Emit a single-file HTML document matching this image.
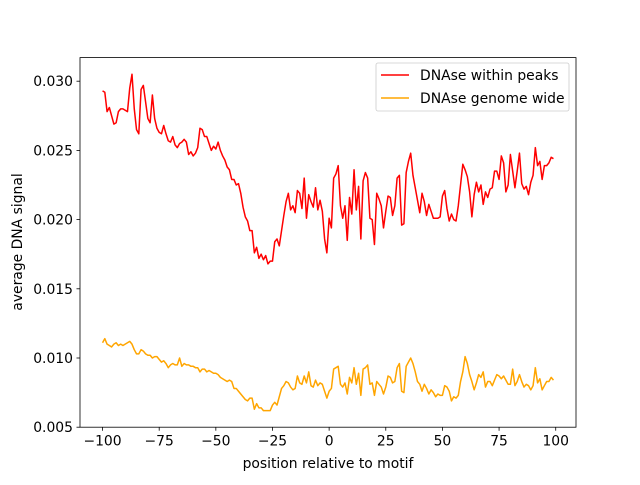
<!DOCTYPE html>
<html><head><meta charset="utf-8"><style>
body{margin:0;background:#fff;}
svg text{font-family:"DejaVu Sans","Liberation Sans",sans-serif;font-size:13.9px;fill:#000;}
</style></head><body>
<svg id="chart" width="640" height="480" xmlns="http://www.w3.org/2000/svg">
<rect width="640" height="480" fill="#fff"/>
<g id="marks"></g>
<rect x="80" y="57.6" width="496" height="369.6" fill="none" stroke="#000" stroke-width="0.8"/>
<g id="xticks"></g>
<g id="yticks"></g>
<text x="328" y="468" text-anchor="middle">position relative to motif</text>
<text transform="translate(22,242) rotate(-90)" text-anchor="middle">average DNA signal</text>
<g>
<rect x="376" y="63" width="193" height="48" rx="2" fill="#fff" fill-opacity="0.8" stroke="#ccc" stroke-width="0.8"/>
<line x1="381" y1="75" x2="409" y2="75" stroke="#ff0000" stroke-width="1.5"/>
<text x="420" y="80">DNAse within peaks</text>
<line x1="381" y1="98" x2="409" y2="98" stroke="#ffa500" stroke-width="1.5"/>
<text x="420" y="103">DNAse genome wide</text>
</g>
</svg>
<script>
const xStart = -100;
const peaks = [29.3,29.2,27.8,28.1,27.5,26.9,27.0,27.8,28.0,28.0,27.9,27.8,29.5,30.5,28.0,26.5,26.2,29.4,29.7,28.5,27.3,27.0,29.0,27.3,26.6,26.3,26.2,26.8,26.2,25.7,25.6,26.0,25.4,25.2,25.5,25.6,25.8,25.6,24.7,24.9,24.6,24.8,25.2,26.6,26.5,26.0,26.0,25.5,25.0,25.3,25.1,25.6,25.0,24.6,24.3,23.8,23.6,22.9,22.9,22.5,22.6,21.9,20.9,20.2,19.9,19.2,19.2,17.6,18.0,17.2,17.5,17.1,17.4,16.8,17.0,17.0,18.4,18.6,18.1,19.2,20.3,21.3,21.9,20.7,21.0,20.5,22.1,21.9,20.8,23.0,20.1,21.8,21.3,20.9,22.3,20.7,21.4,20.6,18.6,17.6,20.1,19.4,23.0,23.3,23.9,21.0,20.1,21.0,18.5,21.6,20.4,23.6,20.7,22.4,18.6,22.8,23.4,23.0,20.1,20.0,18.2,21.9,21.5,21.0,19.4,20.6,21.7,21.6,20.3,21.0,23.0,23.2,19.6,19.7,23.4,24.2,24.8,23.2,22.3,21.4,20.5,21.9,21.3,20.3,21.1,20.6,20.1,20.1,20.1,20.2,21.7,22.1,20.8,19.9,20.4,20.0,19.9,21.0,22.5,24.0,23.6,23.1,22.0,20.2,21.8,22.7,22.0,22.5,21.1,22.0,21.6,22.2,22.3,23.5,23.5,22.9,24.6,24.1,22.0,22.5,24.7,23.5,22.3,23.5,24.8,22.6,22.2,22.4,21.8,22.7,23.2,25.2,23.9,24.2,22.9,23.9,23.9,24.1,24.5,24.4];
const genome = [11.1,11.4,11.0,10.9,10.8,11.0,11.1,10.9,11.0,10.9,11.0,11.1,11.2,11.0,10.6,10.3,10.3,10.6,10.5,10.3,10.2,10.2,10.0,10.1,10.1,9.9,9.7,9.8,9.6,9.3,9.5,9.6,9.5,9.5,10.0,9.4,9.6,9.5,9.5,9.4,9.4,9.3,9.3,9.0,9.2,9.2,9.0,9.1,9.0,8.9,8.9,8.8,8.6,8.5,8.4,8.3,8.4,8.3,7.8,7.8,7.6,7.4,7.2,7.0,6.9,7.1,7.1,6.3,6.7,6.4,6.4,6.2,6.2,6.2,6.2,6.6,6.8,6.6,7.2,7.8,8.0,8.3,8.2,7.9,7.7,7.8,8.7,8.2,8.1,8.7,8.2,9.0,8.0,7.9,8.4,8.0,8.2,8.1,7.6,7.1,7.6,7.8,9.2,9.3,9.4,8.1,7.9,8.2,7.4,8.6,8.2,9.3,8.1,8.9,7.3,9.2,9.3,9.5,8.1,8.2,7.3,8.3,8.1,7.9,7.4,7.9,8.7,8.6,8.2,8.3,9.3,9.6,7.6,7.5,9.4,9.7,10.0,9.6,9.0,8.3,8.1,7.6,8.1,7.8,7.4,7.7,7.5,7.2,7.4,7.3,7.3,8.0,7.9,7.6,6.9,7.2,7.1,7.3,8.3,9.0,10.1,9.6,8.8,8.3,7.7,8.2,8.8,8.6,9.0,7.9,8.3,8.3,8.0,8.4,8.8,8.7,8.5,8.7,8.4,8.1,8.1,9.2,8.0,8.3,8.8,8.3,7.9,8.1,8.0,7.7,8.0,9.3,8.2,8.5,7.7,8.0,8.3,8.3,8.6,8.4];
const valueScale = 0.001;
const xTicks = [-100,-75,-50,-25,0,25,50,75,100];
const yTicks = [0.005,0.010,0.015,0.020,0.025,0.030];
const yTickLabels = ["0.005","0.010","0.015","0.020","0.025","0.030"];

const NS = "http://www.w3.org/2000/svg";
const X0=80,X1=576,Y0=57.6,Y1=427.2;
const xmin=-109.95,xmax=108.95,ymin=0.005,ymax=0.005+369.6/13840;
function xs(v){return X0+(v-xmin)/(xmax-xmin)*(X1-X0);}
function ys(v){return Y1-(v-ymin)/(ymax-ymin)*(Y1-Y0);}
function mk(tag,attrs,parent){const e=document.createElementNS(NS,tag);for(const k in attrs)e.setAttribute(k,attrs[k]);parent.appendChild(e);return e;}

const marks=document.getElementById('marks');
function drawSeries(arr,color,name){
  const pts=arr.map((v,i)=>xs(xStart+i).toFixed(2)+","+ys(v*valueScale).toFixed(2)).join(" ");
  const pl=mk('polyline',{points:pts,fill:'none',stroke:color,'stroke-width':1.5,'stroke-linejoin':'round'},marks);
  
  
}
drawSeries(peaks,'#ff0000','series-within-peaks');
drawSeries(genome,'#ffa500','series-genome-wide');

const xg=document.getElementById('xticks');
xTicks.forEach(t=>{
  const x=xs(t);
  const l=mk('line',{x1:x,x2:x,y1:Y1,y2:Y1+3.5,stroke:'#000','stroke-width':0.8},xg);
  
  
  const tx=mk('text',{x:x,y:Y1+18.5,'text-anchor':'middle'},xg);
  tx.textContent=(t<0?'\u2212'+(-t):String(t));
  
  
});
const yg=document.getElementById('yticks');
yTicks.forEach((t,i)=>{
  const y=ys(t);
  const l=mk('line',{x1:X0-3.5,x2:X0,y1:y,y2:y,stroke:'#000','stroke-width':0.8},yg);
  
  
  const tx=mk('text',{x:X0-7,y:y+5,'text-anchor':'end'},yg);
  tx.textContent=yTickLabels[i];
  
  
});
</script>
</body></html>
